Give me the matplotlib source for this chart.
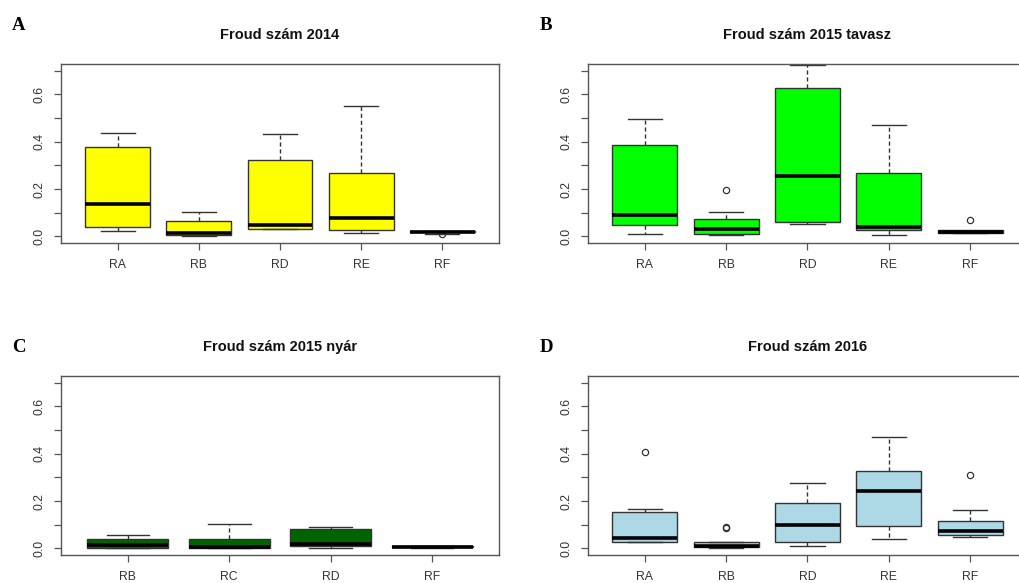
import matplotlib
matplotlib.use("Agg")
import matplotlib.pyplot as plt
import numpy as np

# ---- data ----
titles = ["Froud szám 2014", "Froud szám 2015 tavasz", "Froud szám 2015 nyár", "Froud szám 2016"]
letters = ["A", "B", "C", "D"]
colors = ["#FFFF00", "#00FF00", "#006400", "#ADD8E6"]

cats_A = ["RA", "RB", "RD", "RE", "RF"]
wlo_A = [0.023, 0.003, 0.032, 0.015, 0.012]
q1_A = [0.041, 0.006, 0.032, 0.027, 0.017]
med_A = [0.137, 0.014, 0.046, 0.079, 0.019]
q3_A = [0.379, 0.063, 0.323, 0.269, 0.021]
whi_A = [0.435, 0.101, 0.431, 0.549, 0.022]
out_A = [[], [], [], [], [0.008]]

cats_B = ["RA", "RB", "RD", "RE", "RF"]
wlo_B = [0.008, 0.006, 0.051, 0.004, 0.015]
q1_B = [0.046, 0.008, 0.061, 0.025, 0.015]
med_B = [0.089, 0.031, 0.255, 0.041, 0.020]
q3_B = [0.385, 0.072, 0.625, 0.268, 0.026]
whi_B = [0.494, 0.101, 0.723, 0.470, 0.022]
out_B = [[], [0.196], [], [], [0.069]]

cats_C = ["RB", "RC", "RD", "RF"]
wlo_C = [0.001, 0.000, 0.001, 0.003]
q1_C = [0.003, 0.003, 0.008, 0.004]
med_C = [0.015, 0.006, 0.018, 0.006]
q3_C = [0.041, 0.041, 0.082, 0.009]
whi_C = [0.058, 0.101, 0.090, 0.011]
out_C = [[], [], [], []]

cats_D = ["RA", "RB", "RD", "RE", "RF"]
wlo_D = [0.025, 0.003, 0.011, 0.041, 0.048]
q1_D = [0.027, 0.006, 0.027, 0.093, 0.056]
med_D = [0.042, 0.012, 0.098, 0.244, 0.073]
q3_D = [0.152, 0.026, 0.190, 0.326, 0.114]
whi_D = [0.167, 0.027, 0.277, 0.470, 0.162]
out_D = [[0.406], [0.090, 0.086], [], [], [0.310]]

panels = [
    (cats_A, wlo_A, q1_A, med_A, q3_A, whi_A, out_A),
    (cats_B, wlo_B, q1_B, med_B, q3_B, whi_B, out_B),
    (cats_C, wlo_C, q1_C, med_C, q3_C, whi_C, out_C),
    (cats_D, wlo_D, q1_D, med_D, q3_D, whi_D, out_D),
]

plt.rcParams['font.family'] = ['Liberation Sans', 'DejaVu Sans']

W, H = 1020, 583
fig = plt.figure(figsize=(W / 100, H / 100), dpi=100)

# pixel boxes: (left, top, right, bottom)
boxes_px = [(61, 64, 499, 243), (588, 64, 1027, 243),
            (61, 376, 499, 555), (588, 376, 1027, 555)]
title_y_px = [35, 35, 347, 347]
letter_px = [(19, 25), (546, 25), (19, 347), (546, 347)]

frame_col = "#555555"
for i, (cats, wlo, q1, med, q3, whi, outs) in enumerate(panels):
    l, t, r, b = boxes_px[i]
    ax = fig.add_axes([l / W, 1 - b / H, (r - l) / W, (b - t) / H])
    n = len(cats)
    stats = []
    for j in range(n):
        stats.append(dict(whislo=wlo[j], q1=q1[j], med=med[j], q3=q3[j],
                          whishi=whi[j], fliers=outs[j], label=cats[j]))
    ax.bxp(stats, positions=np.arange(1, n + 1), widths=0.8, patch_artist=True,
           boxprops=dict(facecolor=colors[i], edgecolor="#333333", linewidth=1.0),
           medianprops=dict(color="black", linewidth=2.6, solid_capstyle="butt"),
           whiskerprops=dict(color="#333333", linewidth=1.0, linestyle=(0, (3, 2))),
           capprops=dict(color="#333333", linewidth=1.0),
           flierprops=dict(marker="o", markersize=4.5, markerfacecolor="none",
                           markeredgecolor="#333333", markeredgewidth=0.9),
           capwidths=0.42)
    rng = n
    ax.set_xlim(0.5 - 0.04 * rng, n + 0.5 + 0.04 * rng)
    ax.set_ylim(-0.028, 0.728)
    ax.set_yticks(np.arange(0, 0.71, 0.1))
    ax.set_yticklabels(["0.0", "", "0.2", "", "0.4", "", "0.6", ""], rotation=90, va="center")
    ax.set_xticks(np.arange(1, n + 1))
    ax.set_xticklabels(cats)
    ax.tick_params(axis="both", direction="out", length=5, width=0.9, color=frame_col,
                   labelsize=8.8, labelcolor="#333333")
    ax.tick_params(axis="x", pad=6.5)
    ax.tick_params(axis="y", pad=6)
    for s in ax.spines.values():
        s.set_color(frame_col)
        s.set_linewidth(1.0)
    fig.text((l + r) / 2 / W, 1 - title_y_px[i] / H, titles[i], ha="center", va="center",
             fontsize=10.5, fontweight="bold", color="#111111")
    lx, ly = letter_px[i]
    fig.text(lx / W, 1 - ly / H, letters[i], ha="center", va="center",
             fontsize=13.5, fontweight="bold", family="Liberation Serif", color="black")

fig.savefig("out.png", dpi=100)
